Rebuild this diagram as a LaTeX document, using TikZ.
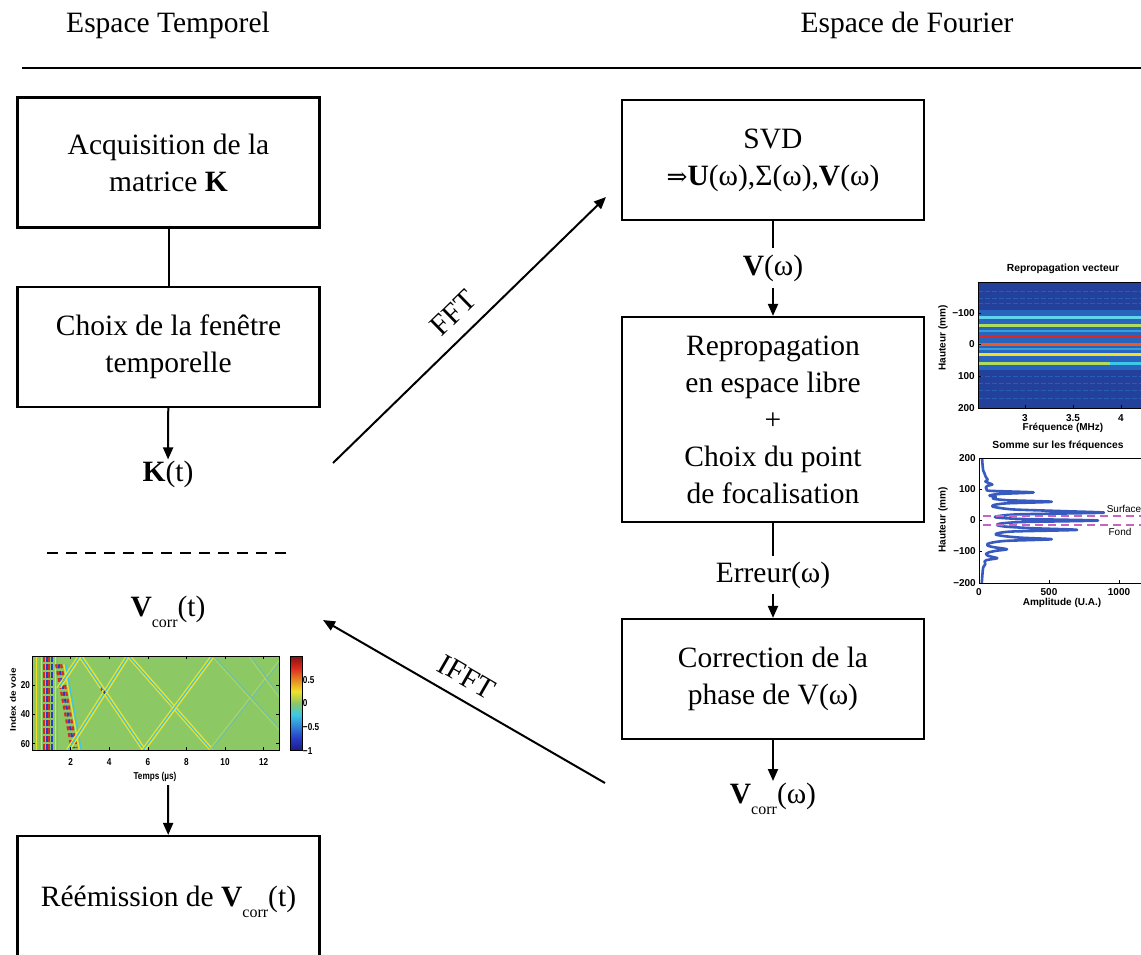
\documentclass[tikz,border=0pt]{standalone}
\usepackage{fontspec}
\setmainfont{Liberation Serif}
\newfontfamily\plotfont{Liberation Sans}
\newfontfamily\arrfont{DejaVu Serif}
\usetikzlibrary{arrows.meta}
\newcommand{\bigtxt}{\fontsize{29.5}{37}\selectfont}
\newcommand{\Vcr}{\textbf{V}\raisebox{-0.36em}{\fontsize{16}{16}\selectfont corr}}
\definecolor{jdb}{RGB}{30,30,130}
\definecolor{jbl}{RGB}{40,60,200}
\definecolor{jcy}{RGB}{60,200,230}
\definecolor{jgr}{RGB}{140,200,100}
\definecolor{jye}{RGB}{240,225,40}
\definecolor{jre}{RGB}{220,40,30}
\definecolor{jdr}{RGB}{130,20,20}
\definecolor{hmbg}{RGB}{35,65,155}
\definecolor{hmmid}{RGB}{40,100,190}
\definecolor{hyg}{RGB}{175,220,90}
\definecolor{hor}{RGB}{235,90,30}
\definecolor{fyg}{RGB}{175,212,95}
\definecolor{fcy}{RGB}{110,195,160}
\definecolor{curveblue}{RGB}{55,90,190}
\definecolor{magd}{RGB}{200,100,190}
\pgfdeclareverticalshading{jetbar}{100bp}{color(0bp)=(jdb); color(25bp)=(jdb); color(31.25bp)=(jbl); color(43.75bp)=(jcy); color(50bp)=(jgr); color(56.25bp)=(jye); color(68.75bp)=(jre); color(75bp)=(jdr); color(100bp)=(jdr)}
\begin{document}
\begin{tikzpicture}[x=1pt,y=-1pt,
  box/.style={draw, line width=2.2pt, minimum width=302pt, align=center, font=\bigtxt, inner sep=0pt},
  lbl/.style={font=\bigtxt, inner sep=4pt},
  arr/.style={line width=2pt, -{Triangle[length=12pt,width=10pt]}},
  conn/.style={line width=2pt},
  ptick/.style={font=\plotfont\bfseries\fontsize{10}{10}\selectfont, inner sep=1pt},
  ptitle/.style={font=\plotfont\bfseries\fontsize{10.3}{11}\selectfont, inner sep=1pt},
  ntick/.style={font=\plotfont\bfseries\fontsize{10}{10}\selectfont, inner sep=1pt, xscale=0.82},
  echo/.style={line width=1.3pt},
]
\useasboundingbox (0,0) rectangle (1141,954);
\clip (0,0) rectangle (1141,954);
\fill[white] (0,0) rectangle (1141,954);

% headings
\node[lbl] (hT) at (168,25) {Espace Temporel};
\node[lbl] (hF) at (907,25) {Espace de Fourier};
\coordinate (ruleL) at (22,68);
\coordinate (ruleR) at (1145,68);
\draw[line width=2.4pt] (ruleL) -- (ruleR);

% left column
\node[box, minimum height=130pt] (A) at (168.5,162.5) {Acquisition de la\\matrice \textbf{K}};
\node[box, minimum height=120pt] (B) at (168.5,347) {Choix de la fenêtre\\temporelle};
\draw[conn] (A) -- (B);
\node[lbl, inner sep=1pt] (Kt) at (168,474) {\textbf{K}(t)};
\draw[arr] (B) -- (Kt);
\coordinate (dashL) at (47,553);
\coordinate (dashR) at (290,553);
\draw[line width=2.4pt, dash pattern=on 11pt off 8pt] (dashL) -- (dashR);
\node[lbl] (Vct) at (168,612) {\Vcr(t)};

% colormap image
\begin{scope}
\clip (32,656) rectangle (279,750);
\fill[jgr] (32,656) rectangle (279,750);
\begin{scope}[shift={(32,655.5)}, x=19.3pt, y=-1.47pt]
  % vertical early stripes
  \foreach \t/\c in {0.22/jye,0.34/jcy,0.46/jye}{
    \fill[\c] (\t,0) rectangle ++(0.06,64);}
  \foreach \t/\c in {0.62/jre,0.76/jbl,0.9/jre,1.04/jbl}{
    \draw[\c, line width=2.2pt, dash pattern=on 6pt off 2pt] (\t,0) -- ++(0,64);}
  \foreach \t/\c in {1.18/jye,1.28/jcy}{
    \fill[\c] (\t,0) rectangle ++(0.05,64);}
  % diagonal near-field band
  \draw[jre, line width=2.2pt, dash pattern=on 4pt off 3pt] (1.25,6) -- (2.05,63);
  \draw[jbl, line width=2.2pt, dash pattern=on 4pt off 3pt] (1.38,6) -- (2.18,63);
  \draw[jre, line width=2.2pt, dash pattern=on 4pt off 3pt] (1.51,6) -- (2.31,63);
  \draw[jye, echo] (1.65,6) -- (2.45,64);
  \draw[jcy, echo] (1.75,6) -- (2.55,64);
  % echoes
  \foreach \a/\b/\c/\d in {2.4/0/5.7/64, 4.9/0/1.8/64, 4.9/0/9.2/64, 5.7/64/9.3/0, 2.4/0/1.3/22}{
    \draw[jye, echo] (\a,\b) -- (\c,\d);
    \draw[jcy, echo] (\a+0.09,\b) -- (\c+0.09,\d);
    \draw[jye, echo] (\a+0.18,\b) -- (\c+0.18,\d);}
  \foreach \a/\b/\c/\d in {9.2/64/12.9/2, 9.3/0/12.9/52, 11.2/0/12.9/30}{
    \draw[fyg, echo] (\a,\b) -- (\c,\d);
    \draw[fcy, echo] (\a+0.09,\b) -- (\c+0.09,\d);}
  \fill[jre] (3.6,23) circle (0.06 and 1.3);
  \fill[jbl] (3.75,25) circle (0.06 and 1.3);
\end{scope}
\end{scope}
\draw[line width=0.8pt] (32,656) rectangle (279,750);
\foreach \t in {2,4,6,8,10,12}{
  \draw[line width=0.6pt] ({32+19.3*\t},750) -- ++(0,-3);
  \draw[line width=0.6pt] ({32+19.3*\t},656) -- ++(0,3);
  \node[ntick] (cx\t) at ({32+19.3*\t},762) {\t};}
\foreach \i in {20,40,60}{
  \draw[line width=0.6pt] (32,{655.5+1.47*\i}) -- ++(3,0);
  \draw[line width=0.6pt] (279,{655.5+1.47*\i}) -- ++(-3,0);
  \node[ntick, anchor=east] (cy\i) at (31,{655.5+1.47*\i}) {\i};}
\node[ntick] (cxl) at (155,777) {Temps (µs)};
\node[ntick, rotate=90] (cyl) at (13,700) {Index de voie};
\shade[shading=jetbar] (290,656) rectangle (302,750);
\draw[line width=0.6pt] (290,656) rectangle (302,750);
\node[ntick, anchor=west] (cb1) at (302,680) {0.5};
\node[ntick, anchor=west] (cb2) at (302,703) {0};
\node[ntick, anchor=west] (cb3) at (302,727) {−0.5};
\node[ntick, anchor=west] (cb4) at (302,751) {−1};

\coordinate (reemArrS) at (168,785);
\node[box, minimum height=150pt] (R) at (168.5,911) {};
\node[lbl] (Rt) at (168.5,902) {Réémission de \Vcr(t)};
\draw[arr] (reemArrS) -- (R);

% right column
\node[box, minimum height=120pt] (S) at (773,160) {SVD\\{\arrfont\fontsize{25}{25}\selectfont ⇒}\textbf{U}(ω),Σ(ω),\textbf{V}(ω)};
\node[lbl, inner sep=6pt] (Vw) at (773,268) {\textbf{V}(ω)};
\node[box, minimum height=205pt] (P) at (773,419.5) {Repropagation\\en espace libre\\+\\Choix du point\\de focalisation};
\node[lbl, inner sep=5pt] (Er) at (773,575) {Erreur(ω)};
\node[box, minimum height=120pt] (C) at (773,679) {Correction de la\\phase de V(ω)};
\node[lbl, anchor=north, inner sep=2pt] (Vcw) at (773,781) {\Vcr(ω)};
\draw[conn] (S) -- (Vw);
\draw[arr] (Vw) -- (P);
\draw[conn] (P) -- (Er);
\draw[arr] (Er) -- (C);
\draw[arr] (C) -- (Vcw.north);

% FFT / IFFT
\coordinate (fftS) at (333,463);
\coordinate (fftE) at (606,197);
\draw[arr] (fftS) -- (fftE) node[pos=0.5, sloped, above=12pt, font=\bigtxt, inner sep=1pt] (fftL) {FFT};
\coordinate (ifftS) at (605,783);
\coordinate (ifftE) at (323,620);
\draw[arr] (ifftS) -- (ifftE);
\path (ifftE) -- (ifftS) node[pos=0.47, sloped, above=12pt, font=\bigtxt, inner sep=1pt] (ifftL) {IFFT};

% heatmap (Repropagation vecteur)
\node[ptitle] (h1t) at (1063,269) {Repropagation vecteur};
\fill[hmbg] (978,282) rectangle (1145,408);
\fill[hmmid] (978,310) rectangle (1145,370);
\foreach \y in {291,298,303,376,383,390,398}{
  \draw[hmmid!80!hmbg, line width=1pt, dash pattern=on 5pt off 2pt] (978,\y) -- (1145,\y);}
\draw[jcy!80!white, line width=3pt] (978,317) -- (1145,317);
\draw[hyg, line width=3pt] (978,325) -- (1145,325);
\draw[jre, line width=3pt] (978,336) -- (1145,336);
\draw[hor, line width=3pt] (978,344) -- (1145,344);
\draw[jye, line width=3pt] (978,354) -- (1145,354);
\draw[hyg, line width=3pt] (978,363) -- (1110,363);
\draw[jcy, line width=3pt] (1110,363) -- (1145,363);
\draw[jcy!60!hmmid, line width=1.5pt] (978,331) -- (1145,331);
\draw[jcy!60!hmmid, line width=1.5pt] (978,349) -- (1145,349);
\draw[line width=0.8pt] (978,282) rectangle (1145,408);
\foreach \v/\y in {−100/313,0/344.5,100/376,200/408}{
  \node[ptick, anchor=east] at (976,\y) {\v};}
\foreach \y in {313,344.5,376}{\draw[line width=0.6pt] (978,\y) -- ++(3,0);}
\foreach \v/\x in {3/1025,3.5/1073,4/1121}{
  \node[ptick] at (\x,418) {\v};
  \draw[line width=0.6pt] (\x,408) -- ++(0,-3);}
\node[ptick] (h1x) at (1063,428) {Fréquence (MHz)};
\node[ptick, rotate=90] (h1y) at (943,338) {Hauteur (mm)};

% profile plot (Somme sur les fréquences)
\node[ptitle] (h2t) at (1058,446) {Somme sur les fréquences};
\begin{scope}
\clip (979,458) rectangle (1145,583);
\begin{scope}[shift={(979,520.5)}, x=0.14pt, y=0.3125pt]
\draw[curveblue, line width=2.6pt, line join=round] plot[smooth, tension=0.45] coordinates {
(22,200) (25,180) (30,160) (40,150) (48,140) (62,130) (45,125) (75,119) (95,115) (60,111) (48,106) (55,100) (80,95)
(390,90) (150,85) (75,80) (120,75) (100,70) (200,65) (520,60) (200,55) (110,50) (95,45) (150,40) (260,35) (600,30)
(890,25) (300,20) (150,15) (120,10) (300,5) (850,0) (300,-5) (150,-10) (130,-15) (200,-20) (400,-25) (700,-30)
(250,-35) (140,-40) (120,-45) (180,-50) (300,-55) (520,-60) (200,-65) (100,-70) (60,-75) (60,-80) (100,-85) (200,-92)
(120,-97) (70,-102) (50,-107) (60,-112) (100,-117) (130,-121) (60,-126) (40,-131) (45,-140) (30,-150) (25,-170) (20,-200)};
\end{scope}
\end{scope}
\draw[magd, line width=1.3pt, dash pattern=on 8pt off 5pt] (983,516) -- (1145,516);
\draw[magd, line width=1.3pt, dash pattern=on 8pt off 5pt] (983,525) -- (1145,525);
\draw[line width=0.8pt] (979,458) rectangle (1145,583);
\foreach \v/\y in {200/458,100/489,0/520.5,−100/551,−200/583}{
  \node[ptick, anchor=east] at (977,\y) {\v};}
\foreach \y in {489,520.5,551}{\draw[line width=0.6pt] (979,\y) -- ++(3,0);}
\foreach \v/\x in {0/979,500/1049,1000/1119}{
  \node[ptick] at (\x,592) {\v};
  \draw[line width=0.6pt] (\x,583) -- ++(0,-3);}
\node[ptick] (h2x) at (1062,603) {Amplitude (U.A.)};
\node[ptick, rotate=90] (h2y) at (943,520) {Hauteur (mm)};
\node[font=\plotfont\fontsize{10}{10}\selectfont, inner sep=1pt] (surf) at (1124,509) {Surface};
\node[font=\plotfont\fontsize{10}{10}\selectfont, inner sep=1pt] (fond) at (1120,532) {Fond};
\end{tikzpicture}
\end{document}
